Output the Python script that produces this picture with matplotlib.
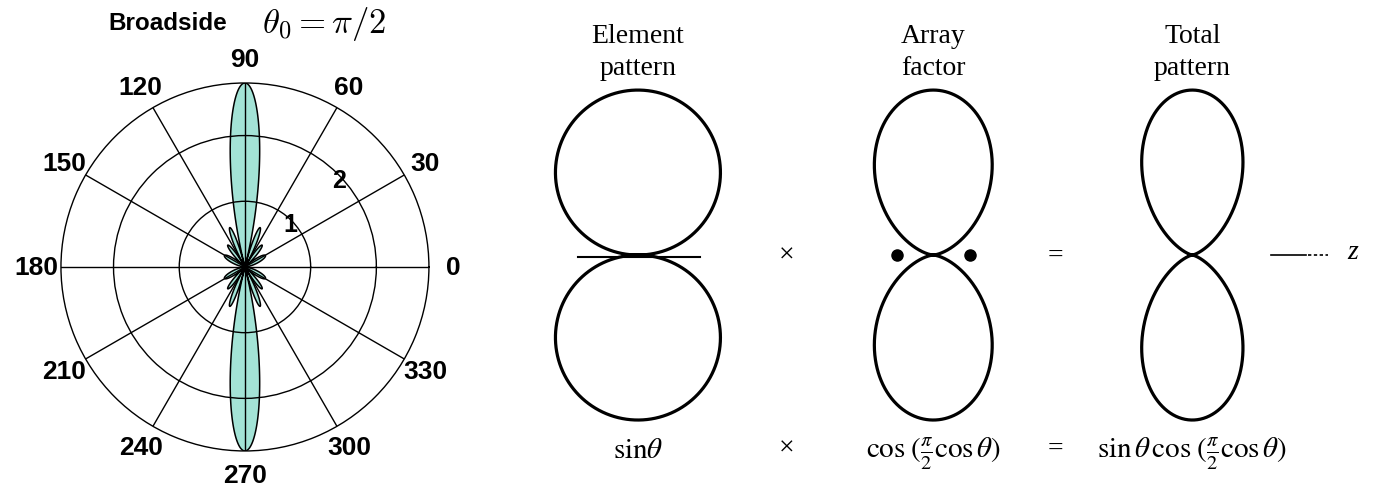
import numpy as np
import matplotlib.pyplot as plt

plt.rcParams['font.family'] = ['Liberation Sans', 'DejaVu Sans']

# uniform linear array, broadside (theta0 = pi/2)
n_elements = 8
spacing_wl = 0.5          # element spacing in wavelengths
peak_gain = 2.8
r_ticks = [1, 2]
theta_ticks = list(range(0, 360, 30))
title_word = 'Broadside'
title_math = r'$\theta_0 = \pi/2$'

# element pattern x array factor = total pattern
top_labels = ['Element\npattern', 'Array\nfactor', 'Total\npattern']
bottom_labels = [r'$\mathrm{sin}\theta$',
                 r'$\mathrm{cos}\;(\frac{\pi}{2}\mathrm{cos}\,\theta)$',
                 r'$\mathrm{sin}\,\theta\,\mathrm{cos}\;(\frac{\pi}{2}\mathrm{cos}\,\theta)$']
operators = ['\u00d7', '=']
axis_label = 'z'

teal = '#a3e3d6'
serif = ['Liberation Serif', 'DejaVu Serif']

fig = plt.figure(figsize=(13.73, 4.89), dpi=100)

# ---- left: polar array factor ----
ax = fig.add_axes([0.0444, 0.0757, 0.268, 0.7526], projection='polar')
th = np.linspace(0, 2 * np.pi, 7201)
psi = 2 * np.pi * spacing_wl * np.cos(th)
den = n_elements * np.sin(psi / 2)
safe = np.where(np.abs(den) < 1e-12, 1.0, den)
af = np.where(np.abs(den) < 1e-12, 1.0, np.sin(n_elements * psi / 2) / safe)
af = np.abs(af) * peak_gain

ax.fill(th, af, facecolor=teal, edgecolor='black', lw=1.1)
ax.set_ylim(0, peak_gain)
ax.set_yticks(r_ticks)
ax.set_yticklabels([])
for t in r_ticks:
    ax.text(np.deg2rad(43), t - 0.05, str(t), ha='center', va='center',
            fontsize=18, fontweight='bold')
ax.set_thetagrids(theta_ticks, labels=[str(t) for t in theta_ticks],
                  fontsize=19, fontweight='bold')
ax.tick_params(axis='x', pad=7)
ax.grid(True, color='black', lw=1.0)
ax.spines['polar'].set_color('black')
ax.spines['polar'].set_linewidth(1.0)

fig.text(168 / 1373, 1 - 24 / 489, title_word, ha='center', va='center',
         fontsize=17.5, fontweight='bold')
fig.text(324 / 1373, 1 - 24 / 489, title_math, ha='center', va='center',
         fontsize=25, math_fontfamily='cm')

# ---- right: pattern multiplication ----
axr = fig.add_axes([500 / 1373, 0, 873 / 1373, 1])
axr.set_xlim(-0.836, 4.455)
axr.set_ylim(-1.412, 1.552)
axr.axis('off')

phi = np.linspace(0, 2 * np.pi, 2000)
element = np.abs(np.sin(phi))
array_f = np.abs(np.cos(np.pi / 2 * np.cos(phi)))
total = element * array_f
patterns = [element, array_f, total]
centers = [0.0, 1.79, 3.36]

for cx, r in zip(centers, patterns):
    axr.plot(cx + r * np.cos(phi), r * np.sin(phi), color='black', lw=2.3,
             solid_capstyle='round')

# element (dipole) axis and array element positions
axr.plot([-0.364, 0.376], [-0.01, -0.01], color='black', lw=1.5)
axr.plot([centers[1] - 0.22, centers[1] + 0.22], [0, 0], 'o', color='black', ms=8)

# z axis marker
axr.plot([3.836, 4.05], [0, 0], color='black', lw=1.2)
axr.plot([4.06, 4.18], [0, 0], color='black', lw=1.2, ls=(0, (2, 1.5)))
axr.text(4.33, 0.02, axis_label, ha='center', va='center', fontsize=20,
         family=serif, style='italic')

for cx, lab in zip(centers, top_labels):
    axr.text(cx, 1.235, lab, ha='center', va='center', fontsize=20,
             family=serif, linespacing=1.35)

for cx, lab in zip(centers, bottom_labels):
    axr.text(cx, -1.225, lab, ha='center', va='baseline', fontsize=21,
             family=serif, math_fontfamily='stix')

for x, op in zip([0.90, 2.53], operators):
    axr.text(x, 0.0, op, ha='center', va='center', fontsize=20, family=serif)
    axr.text(x, -1.17, op, ha='center', va='center', fontsize=20, family=serif)

fig.savefig('out.png', dpi=100)
